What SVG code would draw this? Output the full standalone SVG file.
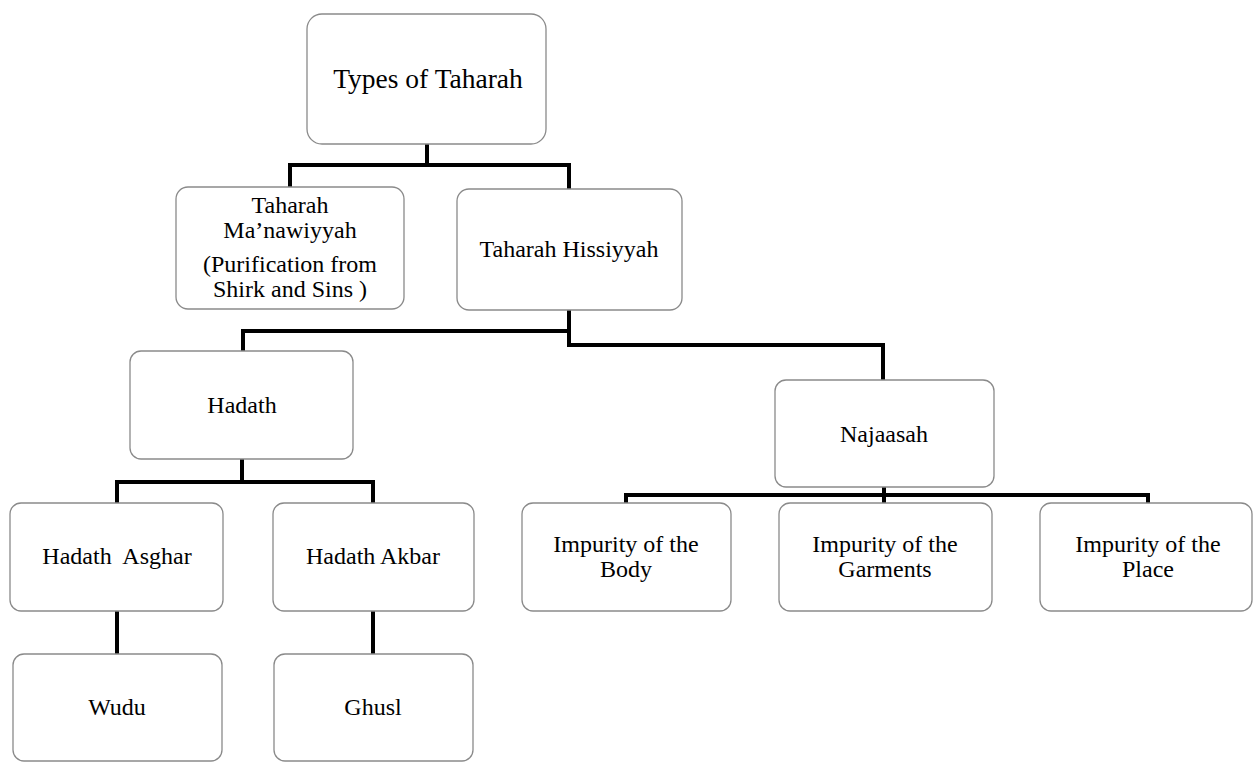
<svg xmlns="http://www.w3.org/2000/svg" width="1253" height="762" viewBox="0 0 1253 762">
<style>
.box{fill:#fff;stroke:#8a8a8a;stroke-width:1.3}
.t{font-family:"Liberation Serif","Times New Roman",serif;font-size:24px;fill:#000;text-anchor:middle;white-space:pre}
.big{font-size:27.5px}
.c{fill:none;stroke:#000;stroke-width:4;stroke-linejoin:miter}
</style>
<rect width="1253" height="762" fill="#fff"/>
<g id="connectors">
<path class="c" d="M427 144 V165 M290 187 V165 H569 V189"/>
<path class="c" d="M569 310 V345 H883 V380 M569 331 H243 V351"/>
<path class="c" d="M242 459 V482 M117 503 V482 H373 V503"/>
<path class="c" d="M884 487 V503 M626 503 V495 H1148 V503"/>
<path class="c" d="M117 611 V654 M373 611 V654"/>
</g>
<g id="types"><rect class="box" x="307" y="14" width="239" height="130" rx="15"/><text class="t big" x="428" y="88">Types of Taharah</text></g>
<g id="manawiyyah"><rect class="box" x="176" y="187" width="228" height="122" rx="12"/>
<text class="t" x="290" y="213">Taharah</text><text class="t" x="290" y="238">Ma’nawiyyah</text><text class="t" x="290" y="272">(Purification from</text><text class="t" x="290" y="297">Shirk and Sins )</text></g>
<g id="hissiyyah"><rect class="box" x="457" y="189" width="225" height="121" rx="12"/><text class="t" x="569" y="257">Taharah Hissiyyah</text></g>
<g id="hadath"><rect class="box" x="130" y="351" width="223" height="108" rx="11"/><text class="t" x="242" y="413">Hadath</text></g>
<g id="najaasah"><rect class="box" x="775" y="380" width="219" height="107" rx="11"/><text class="t" x="884" y="442">Najaasah</text></g>
<g id="asghar"><rect class="box" x="10" y="503" width="213" height="108" rx="11"/><text class="t" x="117" y="564">Hadath  Asghar</text></g>
<g id="akbar"><rect class="box" x="273" y="503" width="201" height="108" rx="11"/><text class="t" x="373" y="564">Hadath Akbar</text></g>
<g id="body"><rect class="box" x="522" y="503" width="209" height="108" rx="11"/><text class="t" x="626" y="552">Impurity of the</text><text class="t" x="626" y="577">Body</text></g>
<g id="garments"><rect class="box" x="779" y="503" width="213" height="108" rx="11"/><text class="t" x="885" y="552">Impurity of the</text><text class="t" x="885" y="577">Garments</text></g>
<g id="place"><rect class="box" x="1040" y="503" width="212" height="108" rx="11"/><text class="t" x="1148" y="552">Impurity of the</text><text class="t" x="1148" y="577">Place</text></g>
<g id="wudu"><rect class="box" x="13" y="654" width="209" height="107" rx="11"/><text class="t" x="117" y="715">Wudu</text></g>
<g id="ghusl"><rect class="box" x="274" y="654" width="199" height="107" rx="11"/><text class="t" x="373" y="715">Ghusl</text></g>
</svg>
